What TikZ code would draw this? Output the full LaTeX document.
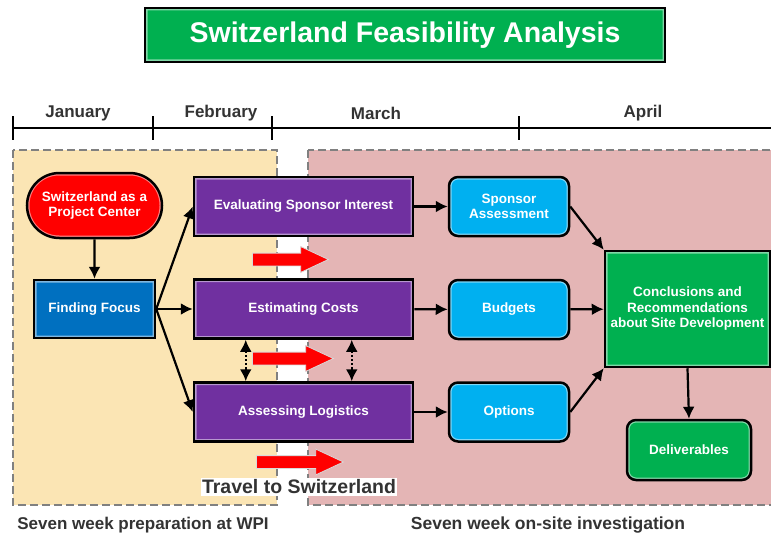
\documentclass[tikz,border=0pt]{standalone}
\usepackage{fontspec}
\setmainfont{Liberation Sans}
\usetikzlibrary{shapes.misc,shapes.arrows,arrows.meta}
\definecolor{wpiyellow}{HTML}{FBE5B4}
\definecolor{sitepink}{HTML}{E4B5B5}
\definecolor{boxred}{HTML}{FF0000}
\definecolor{boxblue}{HTML}{0070C0}
\definecolor{boxpurple}{HTML}{7030A0}
\definecolor{boxcyan}{HTML}{00B0F0}
\definecolor{boxgreen}{HTML}{00B050}
\definecolor{darktext}{HTML}{333333}

\begin{document}
\begin{tikzpicture}[x=1pt,y=-1pt,>={Latex[length=12pt,width=12pt]},
        glow/.style={path picture={\draw[white,opacity=.5,line width=5pt,rounded corners=#1]
            (path picture bounding box.south west) rectangle (path picture bounding box.north east);}},
        glow/.default=0.1pt,
        box/.style={draw=black,line width=2.5pt,text=white,align=center,inner sep=0pt,
            font=\fontsize{13.5}{15.5}\selectfont\bfseries},
        redarrow/.style={single arrow,anchor=tail,fill=boxred,draw=gray!30,line width=0.8pt,minimum height=#1,
            single arrow tip angle=50,single arrow head extend=6.5pt,inner sep=6pt},
        region/.style={draw=gray,line width=2.5pt,dash pattern=on 8pt off 4pt},
        greytext/.style={text=darktext,font=\fontsize{#1}{#1}\selectfont\bfseries}]
    \useasboundingbox (0,0) rectangle (771,535);

    % the two periods
    \draw[region,fill=wpiyellow] (13,150) rectangle (277,505);
    \draw[region,fill=sitepink] (308,150) rectangle (790,505);

    % title
    \node[box,glow,fill=boxgreen,minimum width=520pt,minimum height=54pt,
        font=\fontsize{28.5}{30}\selectfont\bfseries] (title) at (405,35) {Switzerland Feasibility Analysis};

    % time line
    \draw[line width=2.5pt] (13,128) -- (775,128);
    \foreach \x in {13,153,272,519}
        \draw[line width=2.5pt] (\x,116) -- (\x,140);
    \foreach \m/\x in {January/78,February/221,March/376,April/643}
        \node[greytext=17] (\m) at (\x,113) {\m};

    \begin{scope}[every node/.style={box,minimum height=59pt}]
        \node (center) [rounded rectangle,glow=32pt,fill=boxred,minimum width=135pt,minimum height=65pt] at (94.5,205.5) {Switzerland as a\\Project Center};
        \node (focus) [glow,fill=boxblue,minimum width=121pt,minimum height=58pt] at (94.5,309) {Finding Focus};
        \node (sponsor) [glow,fill=boxpurple,minimum width=219pt] at (303.5,206.5) {Evaluating Sponsor Interest};
        \node (costs) [glow,fill=boxpurple,minimum width=219pt] at (303.5,309) {Estimating Costs};
        \node (logis) [glow,fill=boxpurple,minimum width=219pt] at (303.5,412) {Assessing Logistics};
        \node (assess) [glow=9pt,fill=boxcyan,rounded corners=9pt,minimum width=120pt] at (509,206.5) {Sponsor\\Assessment};
        \node (budgets) [glow=9pt,fill=boxcyan,rounded corners=9pt,minimum width=120pt] at (509,309.5) {Budgets};
        \node (options) [glow=9pt,fill=boxcyan,rounded corners=9pt,minimum width=120pt] at (509,412) {Options};
        \node (concl) [glow,fill=boxgreen,minimum width=165pt,minimum height=116pt] at (687.5,309) {Conclusions and\\Recommendations\\about Site Development};
        \node (deliv) [glow=9pt,fill=boxgreen,rounded corners=9pt,minimum width=124pt,minimum height=60pt] at (689,450) {Deliverables};
    \end{scope}

    \begin{scope}[every edge/.style={draw=black,line width=2.2pt}]
        \draw (center) edge [->] (focus);
        \draw (focus.east) edge [->] (sponsor.west);
        \draw (focus.east) edge [->] (costs.west);
        \draw (focus.east) edge [->] (logis.west);
        \draw (sponsor) edge [->] (assess);
        \draw (costs) edge [->] (budgets);
        \draw (logis) edge [->] (options);
        \draw (assess.east) edge [->] (concl.north west);
        \draw (budgets) edge [->] (concl);
        \draw (options.east) edge [->] (concl.south west);
        \draw (concl.south) edge [->] (deliv.north);
    \end{scope}

    % costs and logistics depend on each other
    \draw[<->,dotted,line width=2.2pt] ([xshift=53pt]costs.south west) -- ([xshift=53pt]logis.north west);
    \draw[<->,dotted,line width=2.2pt] ([xshift=159pt]costs.south west) -- ([xshift=159pt]logis.north west);

    % travel
    \node[redarrow=76pt] (go1) at (252,259.5) {};
    \node[redarrow=81pt] (go2) at (252,358.5) {};
    \node[redarrow=87pt] (go3) at (256,462) {};
    \node[greytext=19.5,fill=white,inner sep=1.5pt] (travel) at (299,487) {Travel to Switzerland};

    \node[greytext=17] (prep) at (143,525) {Seven week preparation at WPI};
    \node[greytext=17.5] (site) at (548,525) {Seven week on-site investigation};
\end{tikzpicture}
\end{document}
